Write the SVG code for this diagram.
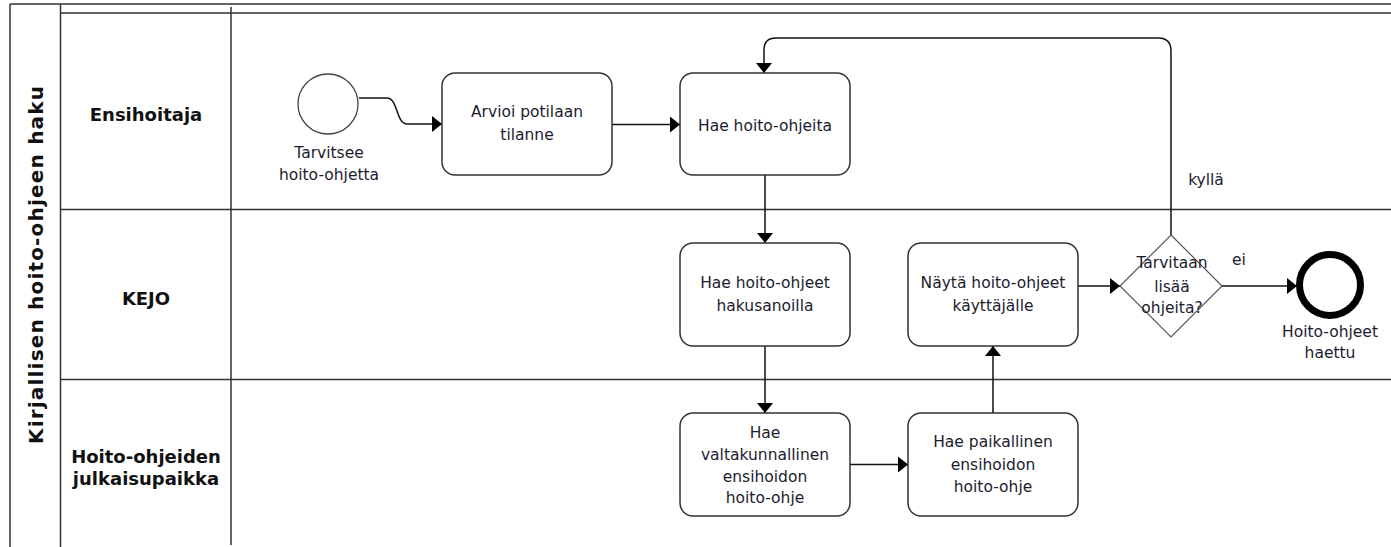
<svg xmlns="http://www.w3.org/2000/svg" width="1391" height="547" viewBox="0 0 1391 547">
<style>
.pool{fill:none;stroke:#333;stroke-width:1.5}
.task{fill:#fff;stroke:#333;stroke-width:1.5}
.t{font-family:"DejaVu Sans",Verdana,sans-serif;font-size:15.5px;fill:#1c1c2e;text-anchor:middle}
.lane{font-family:"DejaVu Sans",Verdana,sans-serif;font-size:18px;font-weight:bold;fill:#111;text-anchor:middle}
.flow{fill:none;stroke:#111;stroke-width:1.5;marker-end:url(#arr)}
</style>
<defs>
<marker id="arr" markerUnits="userSpaceOnUse" markerWidth="11" markerHeight="17" refX="10" refY="8" orient="auto">
<path d="M0,0 L10,8 L0,16 z" fill="#000"/>
</marker>
</defs>
<rect width="1391" height="547" fill="#fff"/>
<g id="pool">
<line class="pool" x1="10" y1="4" x2="1391" y2="4"/>
<line class="pool" x1="10" y1="4" x2="10" y2="547"/>
<line class="pool" x1="60.5" y1="4" x2="60.5" y2="547"/>
<line class="pool" x1="60.5" y1="13" x2="1391" y2="13"/>
<line class="pool" x1="231" y1="7" x2="231" y2="545"/>
<line class="pool" x1="60.5" y1="209.5" x2="1391" y2="209.5"/>
<line class="pool" x1="60.5" y1="379.5" x2="1391" y2="379.5"/>
<text transform="translate(43,265) rotate(-90)" font-family="DejaVu Sans,Verdana,sans-serif" font-size="20" font-weight="bold" fill="#111" text-anchor="middle" textLength="358" lengthAdjust="spacing">Kirjallisen hoito-ohjeen haku</text>
</g>
<g id="lane-ensihoitaja"><text class="lane" x="146" y="121">Ensihoitaja</text></g>
<g id="lane-kejo"><text class="lane" x="146" y="305">KEJO</text></g>
<g id="lane-julkaisupaikka"><text class="lane" x="146" y="463">Hoito-ohjeiden</text><text class="lane" x="146" y="485">julkaisupaikka</text></g>

<g id="connectors">
<path class="flow" d="M359,98 H387 C398,98 396,124 407,124 H442"/>
<path class="flow" d="M612,124.5 H680"/>
<path class="flow" d="M765,175 V243"/>
<path class="flow" d="M765,346 V413"/>
<path class="flow" d="M850,464.5 H908"/>
<path class="flow" d="M993,413 V346"/>
<path class="flow" d="M1078,286 H1120"/>
<path class="flow" d="M1222,286 H1297"/>
<path class="flow" d="M1171,235 V51 Q1171,38 1158,38 H776 Q764,38 764,50 V73"/>
<text class="t" x="1206" y="185">kyllä</text>
<text class="t" x="1239" y="265">ei</text>
</g>

<g id="start">
<circle cx="328" cy="104" r="30" fill="#fff" stroke="#444" stroke-width="1.3"/>
<text class="t" x="329" y="158">Tarvitsee</text>
<text class="t" x="329" y="180">hoito-ohjetta</text>
</g>
<g id="task-arvioi">
<rect class="task" x="442" y="73" width="170" height="102" rx="13"/>
<text class="t" x="527" y="117">Arvioi potilaan</text>
<text class="t" x="527" y="140">tilanne</text>
</g>
<g id="task-hae">
<rect class="task" x="680" y="73" width="170" height="102" rx="13"/>
<text class="t" x="765" y="131">Hae hoito-ohjeita</text>
</g>
<g id="task-hakusanoilla">
<rect class="task" x="680" y="243" width="170" height="103" rx="13"/>
<text class="t" x="765" y="288">Hae hoito-ohjeet</text>
<text class="t" x="765" y="311">hakusanoilla</text>
</g>
<g id="task-nayta">
<rect class="task" x="908" y="243" width="170" height="103" rx="13"/>
<text class="t" x="993" y="288">Näytä hoito-ohjeet</text>
<text class="t" x="993" y="311">käyttäjälle</text>
</g>
<g id="task-valtakunnallinen">
<rect class="task" x="680" y="413" width="170" height="103" rx="13"/>
<text class="t" x="765" y="438">Hae</text>
<text class="t" x="765" y="460">valtakunnallinen</text>
<text class="t" x="765" y="482">ensihoidon</text>
<text class="t" x="765" y="503">hoito-ohje</text>
</g>
<g id="task-paikallinen">
<rect class="task" x="908" y="413" width="170" height="103" rx="13"/>
<text class="t" x="993" y="447">Hae paikallinen</text>
<text class="t" x="993" y="470">ensihoidon</text>
<text class="t" x="993" y="492">hoito-ohje</text>
</g>
<g id="gateway">
<polygon points="1171,235 1222,286 1171,337 1120,286" fill="#fff" stroke="#555" stroke-width="1.2"/>
<text class="t" x="1172" y="268">Tarvitaan</text>
<text class="t" x="1172" y="292">lisää</text>
<text class="t" x="1172" y="313">ohjeita?</text>
</g>
<g id="end">
<circle cx="1330" cy="285" r="30.5" fill="#fff" stroke="#000" stroke-width="7"/>
<text class="t" x="1330" y="337">Hoito-ohjeet</text>
<text class="t" x="1330" y="358">haettu</text>
</g>
</svg>
